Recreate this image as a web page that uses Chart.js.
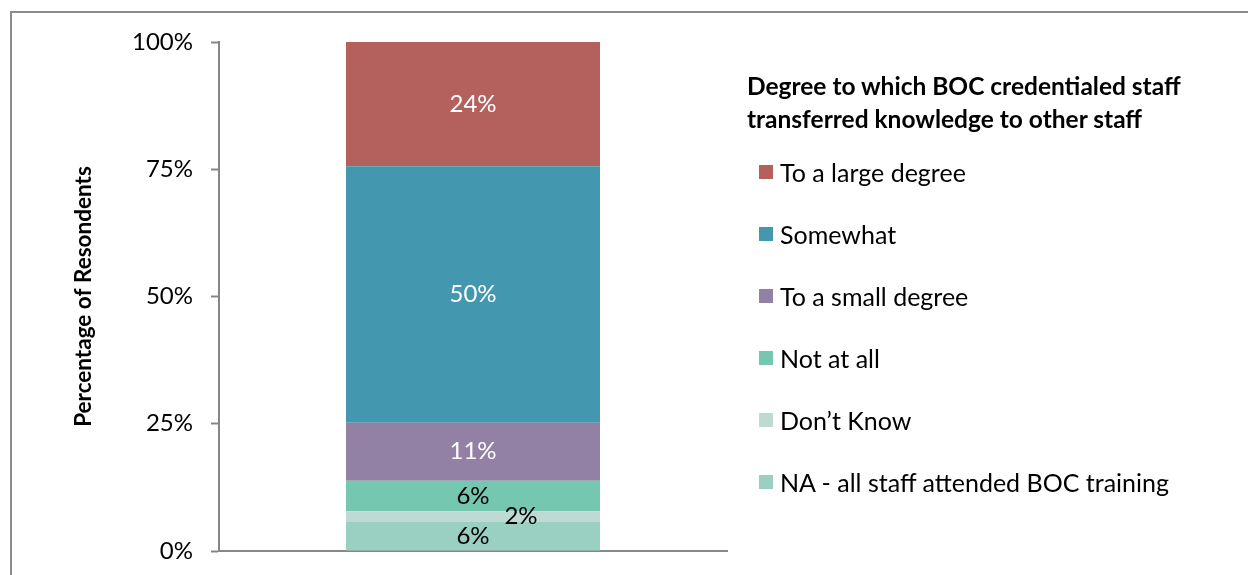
<!DOCTYPE html>
<html>
<head>
<meta charset="utf-8">
<script src="https://cdn.jsdelivr.net/npm/chart.js@4.4.1/dist/chart.umd.min.js"></script>
<style>
    html, body { margin: 0; padding: 0; background: #fff; overflow: hidden; }
    #wrap { position: relative; width: 1248px; height: 575px; }
    #frame {
        position: absolute; left: 10px; top: 11px;
        width: 1400px; height: 700px;
        border: 2px solid #8c8c8c; box-sizing: border-box;
    }
    #chart-box { position: absolute; left: 0; top: 0; width: 1248px; height: 575px; }
    #legend { position: absolute; left: 747px; top: 0; font-family: Lato, sans-serif; color: #000; }
    #legend .title {
        position: absolute; top: 69px; left: 0; width: 500px;
        font-weight: bold; font-size: 24.5px; line-height: 33px; white-space: nowrap;
    }
    #legend ul { position: absolute; top: 141px; left: 12px; margin: 0; padding: 0; list-style: none; width: 480px; }
    #legend li { height: 62px; display: flex; align-items: center; font-size: 25px; white-space: nowrap; }
    #legend .swatch { width: 14px; height: 14px; margin-right: 7px; flex: none; }
</style>
</head>
<body>
<div id="wrap">
    <div id="frame"></div>
    <div id="chart-box"><canvas id="knowledgeChart"></canvas></div>
    <div id="legend">
        <div class="title">Degree to which BOC credentialed staff<br>transferred knowledge to other staff</div>
        <ul id="legend-items"></ul>
    </div>
</div>
<script>
// Responses, bottom of the stack first
const categories = ['Knowledge transfer'];
const responseLabels = ['NA - all staff attended BOC training', 'Don\u2019t Know', 'Not at all', 'To a small degree', 'Somewhat', 'To a large degree'];
const responseValues = [5.7, 2.1, 6.0, 11.4, 50.4, 24.4];
const responseColors = ['#9ad0c2', '#bfdad3', '#76c7b0', '#9280a5', '#4398b0', '#b4615e'];
const labelColors = ['#000', '#000', '#000', '#fff', '#fff', '#fff'];
const yTicks = [0, 25, 50, 75, 100];

// small nudge for labels that would not fit inside a thin segment
const labelNudge = { 1: { dx: 48, dy: 0 } };

const segmentLabels = {
    id: 'segmentLabels',
    afterDatasetsDraw(chart) {
        const ctx = chart.ctx;
        ctx.save();
        ctx.font = '24px Lato, sans-serif';
        ctx.textAlign = 'center';
        ctx.textBaseline = 'middle';
        chart.data.datasets.forEach((ds, i) => {
            const meta = chart.getDatasetMeta(i);
            meta.data.forEach((bar, j) => {
                const v = ds.data[j];
                const nudge = labelNudge[i] || { dx: 0, dy: 0 };
                const y = (bar.y + bar.base) / 2;
                ctx.fillStyle = labelColors[i];
                ctx.fillText(Math.round(v) + '%', bar.x + nudge.dx, y + nudge.dy);
            });
        });
        ctx.restore();
    }
};

const datasets = responseLabels.map((label, i) => ({
    label: label,
    data: [responseValues[i]],
    backgroundColor: responseColors[i],
    borderWidth: 0,
    categoryPercentage: 1,
    barPercentage: 0.5
}));

const axisGray = '#868686';

new Chart(document.getElementById('knowledgeChart'), {
    type: 'bar',
    data: { labels: categories, datasets: datasets },
    plugins: [segmentLabels],
    options: {
        responsive: true,
        maintainAspectRatio: false,
        animation: false,
        layout: { padding: { left: 0, right: 521, top: 42, bottom: 24 } },
        plugins: {
            legend: { display: false },
            tooltip: { enabled: false }
        },
        scales: {
            x: {
                stacked: true,
                grid: { display: false, drawTicks: false },
                ticks: { display: false },
                border: { display: true, color: axisGray, width: 2 }
            },
            y: {
                stacked: true,
                min: 0,
                max: 100,
                afterBuildTicks: scale => { scale.ticks = yTicks.map(v => ({ value: v })); },
                afterFit: scale => {
                    scale.width = 219;
                    // layout padding already leaves room for the end labels
                    scale.paddingTop = 0;
                    scale.paddingBottom = 0;
                },
                ticks: {
                    padding: 18,
                    color: '#000',
                    font: { family: 'Lato, sans-serif', size: 24 },
                    callback: v => v + '%'
                },
                grid: {
                    drawOnChartArea: false,
                    drawTicks: true,
                    tickLength: 8,
                    tickWidth: 2,
                    tickColor: axisGray
                },
                border: { display: true, color: axisGray, width: 2 },
                title: {
                    display: true,
                    text: 'Percentage of Resondents',
                    color: '#000',
                    font: { family: 'Lato, sans-serif', size: 22.5, weight: 'bold' },
                    padding: { top: 70, bottom: 0 }
                }
            }
        }
    }
});

// Legend, top of the stack first
const legendList = document.getElementById('legend-items');
responseLabels.slice().reverse().forEach((label, k) => {
    const i = responseLabels.length - 1 - k;
    const li = document.createElement('li');
    const sw = document.createElement('span');
    sw.className = 'swatch';
    sw.style.background = responseColors[i];
    li.appendChild(sw);
    li.appendChild(document.createTextNode(label));
    legendList.appendChild(li);
});
</script>
</body>
</html>
